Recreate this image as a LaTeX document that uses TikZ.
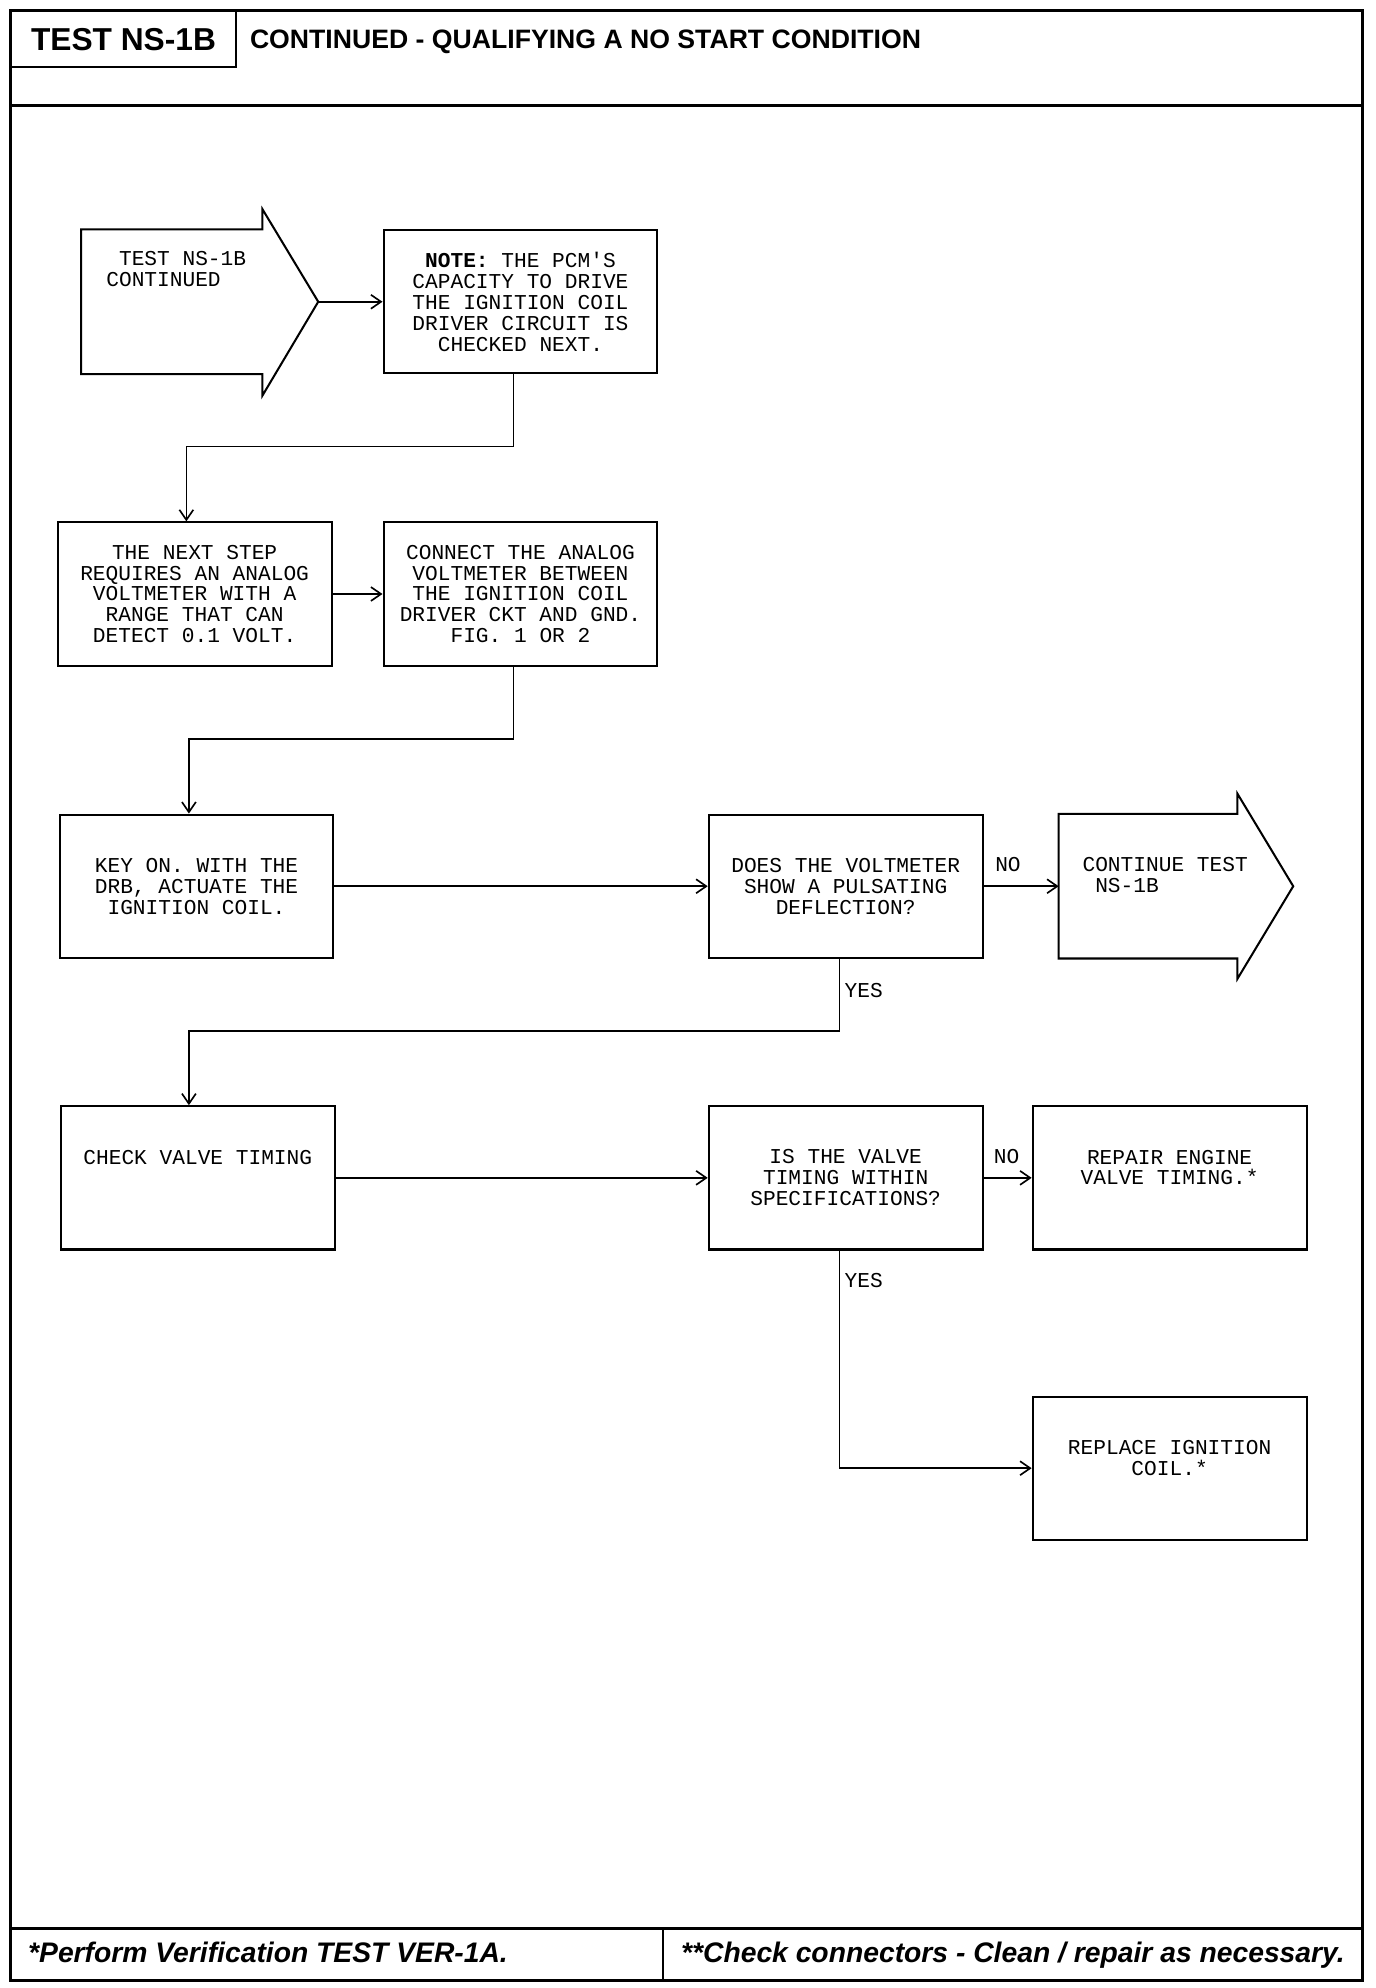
\documentclass[tikz,border=0pt]{standalone}
\usepackage{fontspec}
\setmainfont{Liberation Sans}
\setmonofont{Liberation Mono}
\usetikzlibrary{arrows.meta}

\begin{document}
\begin{tikzpicture}[x=1pt, y=-1pt,
	box/.style = {draw, line width=1.6pt, minimum width=216pt, minimum height=113pt, inner sep=0pt, align=center, font=\ttfamily\fontsize{16.7}{16.5}\selectfont},
	txt/.style = {inner sep=0pt, font=\ttfamily\fontsize{16.7}{16.5}\selectfont},
	outline/.style = {line width=1.6pt, line join=miter},
	flow/.style = {line width=1.3pt, -{Straight Barb[length=8pt, width=11pt]}},
	frame/.style = {line width=2.4pt}]
			\useasboundingbox (0,0) rectangle (1085,1568);
			\draw[frame] (8,8) rectangle (1075,1562);
			\draw[frame] (8,83) -- (1075,83);
			\draw[frame] (8,1521) -- (1075,1521);
			\draw[line width=1.8pt] (523,1521) -- (523,1562);
			\node[draw, line width=1.8pt, anchor=north west, minimum width=177pt, minimum height=44pt, font=\bfseries\fontsize{25}{28}\selectfont] (title) at (8,8) {TEST NS-1B};
			\node[inner sep=0pt, anchor=base west, font=\bfseries\fontsize{21}{24}\selectfont] (subtitle) at (197,38.5) {CONTINUED - QUALIFYING A NO START CONDITION};
			\node[inner sep=0pt, anchor=base west, font=\bfseries\itshape\fontsize{22.3}{26}\selectfont] (foot1) at (22,1548) {*Perform Verification TEST VER-1A.};
			\node[inner sep=0pt, anchor=base west, font=\bfseries\itshape\fontsize{22.3}{26}\selectfont] (foot2) at (537,1548) {**Check connectors - Clean / repair as necessary.};
			\draw[outline] (64,181) -- (207,181) -- (207,165) -- (251,238) -- (207,312) -- (207,295) -- (64,295) -- cycle;
			\coordinate (start-tip) at (251,238);
			\node[txt, align=left] (start) at (139,237) {~TEST NS-1B\\CONTINUED\\~\\~\\~};
			\node[box] (note) at (410.5,238) {\textbf{NOTE:} THE PCM'S\\CAPACITY TO DRIVE\\THE IGNITION COIL\\DRIVER CIRCUIT IS\\CHECKED NEXT.};
			\node[box] (next) at (153.5,468.5) {THE NEXT STEP\\REQUIRES AN ANALOG\\VOLTMETER WITH A\\RANGE THAT CAN\\DETECT 0.1 VOLT.};
			\node[box] (connect) at (410.5,468.5) {CONNECT THE ANALOG\\VOLTMETER BETWEEN\\THE IGNITION COIL\\DRIVER CKT AND GND.\\FIG. 1 OR 2};
			\node[box] (keyon) at (155,699) {KEY ON. WITH THE\\DRB, ACTUATE THE\\IGNITION COIL.};
			\node[box] (does) at (667,699) {DOES THE VOLTMETER\\SHOW A PULSATING\\DEFLECTION?};
			\draw[outline] (835,642) -- (976,642) -- (976,626) -- (1020,699) -- (976,772) -- (976,756) -- (835,756) -- cycle;
			\coordinate (cont-in) at (835,699);
			\node[txt, align=left] (cont) at (919,698.5) {CONTINUE TEST\\~NS-1B\\~};
			\node[box] (check) at (156,929) {CHECK VALVE TIMING\\~\\~};
			\node[box] (is) at (667,929) {IS THE VALVE\\TIMING WITHIN\\SPECIFICATIONS?};
			\node[box] (repair) at (922.5,929) {REPAIR ENGINE\\VALVE TIMING.*\\~};
			\node[box] (replace) at (922.5,1158) {REPLACE IGNITION\\COIL.*\\~};
			\node[txt] (no1) at (795,682) {NO};
			\node[txt, anchor=west] (yes1) at (666,781) {YES};
			\node[txt] (no2) at (794,912) {NO};
			\node[txt, anchor=west] (yes2) at (666,1010) {YES};
			\draw[flow] (start-tip) -- (note.west);
			\draw[flow] ([xshift=-5.5pt]note.south) -- ++(0,57) -| ([xshift=-6.5pt]next.north);
			\draw[flow] (next) -- (connect);
			\draw[flow] ([xshift=-5.5pt]connect.south) -- ++(0,57) -| ([xshift=-6pt]keyon.north);
			\draw[flow] (keyon) -- (does);
			\draw[flow] (does) -- (cont-in);
			\draw[flow] ([xshift=-5pt]does.south) -- ++(0,57) -| ([xshift=-7pt]check.north);
			\draw[flow] (check) -- (is);
			\draw[flow] (is) -- (repair);
			\draw[flow] ([xshift=-5pt]is.south) |- (replace);
		\end{tikzpicture}
\end{document}
